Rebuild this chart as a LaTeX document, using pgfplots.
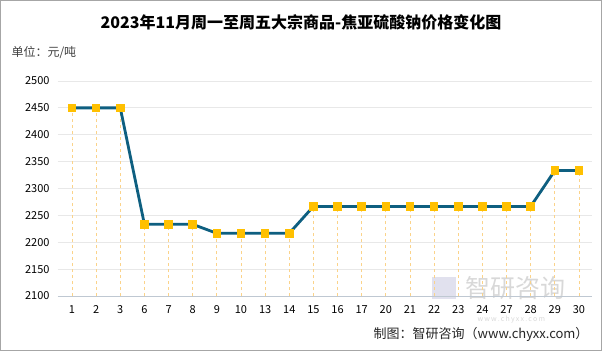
\documentclass[border=0pt]{standalone}
\usepackage{pgfplots}
\pgfplotsset{compat=1.18}
\usepackage{fontspec}
\setmainfont{Noto Sans CJK SC}
\definecolor{lineblue}{HTML}{0E5F80}
\definecolor{markyel}{HTML}{FFC000}
\definecolor{dropor}{HTML}{FBD38A}
\definecolor{gridgray}{HTML}{E8E8E8}
\definecolor{axgray}{HTML}{BFC8D2}
\begin{document}
\begin{tikzpicture}[x=1pt,y=1pt]
\fill[white] (0,0) rectangle (602,351);
\draw[gray!70, line width=0.8pt] (0.4,0.4) rectangle (601.6,350.6);
\node[font=\fontsize{16}{18}\selectfont\bfseries] at (301,329) {2023年11月周一至周五大宗商品-焦亚硫酸钠价格变化图};
\node[anchor=west, font=\fontsize{12}{14}\selectfont, text=black!75] at (8,299) {单位：元/吨};
% watermark
\node[anchor=west, font=\fontsize{25}{27}\selectfont, text=gray, opacity=0.3] at (462,63) {智研咨询};
\node[anchor=west, font=\fontsize{7}{8}\selectfont, text=gray, opacity=0.3] at (474,31) {w\,w\,w\,.\,c\,h\,y\,x\,x\,.\,c\,o\,m};
\fill[blue!30!gray, opacity=0.18] (432,52) rectangle (456,74);
\begin{axis}[
  at={(58pt,55pt)}, anchor=south west,
  scale only axis, width=534pt, height=215pt,
  xmin=-0.58, xmax=21.54, ymin=2100, ymax=2500,
  ytick={2100,2150,...,2500},
  xtick={0,...,21},
  xticklabels={1,2,3,6,7,8,9,10,13,14,15,16,17,20,21,22,23,24,27,28,29,30},
  axis x line*=bottom, axis y line*=left,
  x axis line style={axgray, line width=0.8pt, -},
  y axis line style={draw=none},
  ymajorgrids, grid style={gridgray, line width=0.8pt},
  major tick length=0pt,
  tick label style={font=\fontsize{11}{13}\selectfont, text=black},
  /pgf/number format/assume math mode=true,
  /pgf/number format/1000 sep={},
  yticklabel style={xshift=-5pt},
  xticklabel style={yshift=-6pt},
  clip mode=individual,
]
\addplot[ycomb, dashed, dropor, line width=0.7pt, forget plot] table {
x y
0 2450
1 2450
2 2450
3 2233.33
4 2233.33
5 2233.33
6 2216.67
7 2216.67
8 2216.67
9 2216.67
10 2266.67
11 2266.67
12 2266.67
13 2266.67
14 2266.67
15 2266.67
16 2266.67
17 2266.67
18 2266.67
19 2266.67
20 2333.33
21 2333.33
};
\addplot[lineblue, line width=2.8pt, mark=square*, mark size=3.8pt,
  mark options={fill=markyel, draw=markyel, line width=0pt}] table {
x y
0 2450
1 2450
2 2450
3 2233.33
4 2233.33
5 2233.33
6 2216.67
7 2216.67
8 2216.67
9 2216.67
10 2266.67
11 2266.67
12 2266.67
13 2266.67
14 2266.67
15 2266.67
16 2266.67
17 2266.67
18 2266.67
19 2266.67
20 2333.33
21 2333.33
};
\end{axis}
\node[anchor=east, font=\fontsize{13}{15}\selectfont, text=black!85] at (592,17) {制图：智研咨询（www.chyxx.com）};
\end{tikzpicture}
\end{document}
